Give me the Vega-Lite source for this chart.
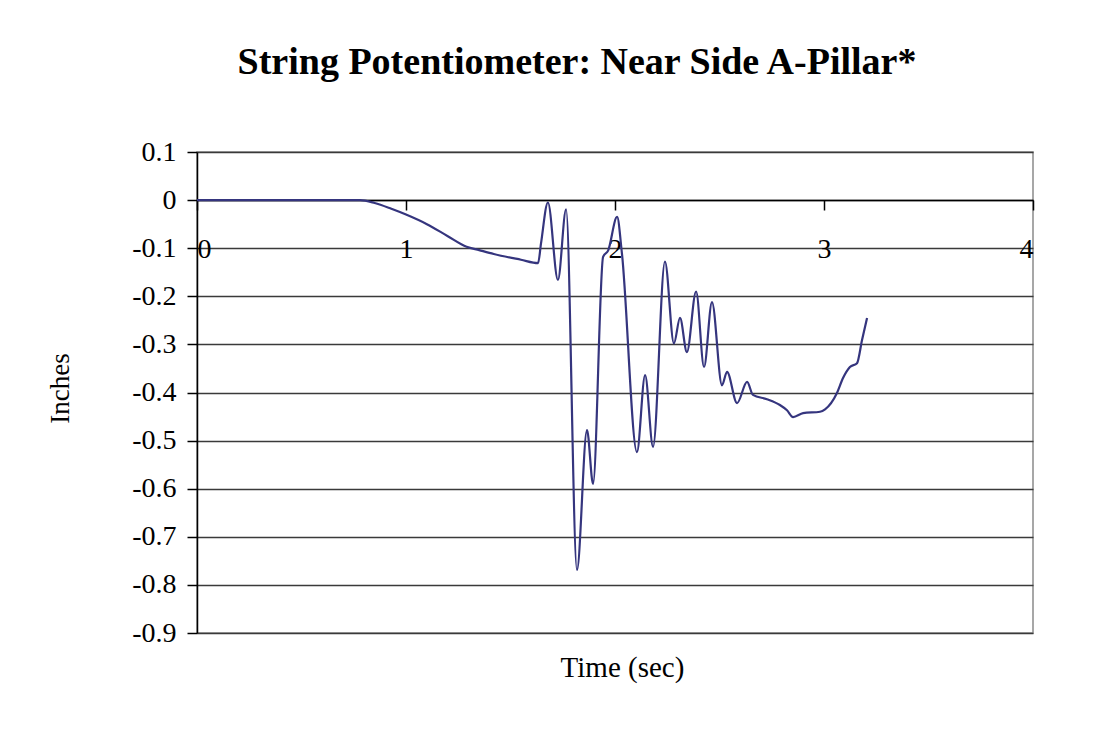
{
  "$schema": "https://vega.github.io/schema/vega-lite/v6.json",
  "width": 836,
  "height": 481,
  "autosize": {"type": "none"},
  "padding": {"left": 197, "top": 152, "right": 71, "bottom": 99},
  "background": "white",
  "title": {
    "text": "String Potentiometer: Near Side A-Pillar*",
    "font": "Liberation Serif",
    "fontSize": 38,
    "fontWeight": "bold",
    "color": "black",
    "anchor": "middle",
    "dx": -38,
    "offset": 56
  },
  "config": {
    "view": {"stroke": "#8a8a8a", "strokeWidth": 1.5},
    "axis": {
      "labelFont": "Liberation Serif",
      "labelFontSize": 28,
      "labelColor": "black",
      "titleFont": "Liberation Serif",
      "titleFontSize": 27,
      "titleFontWeight": "normal",
      "titleColor": "black",
      "domainColor": "black",
      "domainWidth": 1.5,
      "tickColor": "black",
      "tickWidth": 1.5,
      "tickSize": 10
    }
  },
  "data": {
    "values": [
      {"t": 0, "v": 0},
      {"t": 0.2, "v": 0},
      {"t": 0.4, "v": 0},
      {"t": 0.6, "v": 0},
      {"t": 0.78, "v": 0},
      {"t": 0.85, "v": -0.006},
      {"t": 0.93, "v": -0.018},
      {"t": 1.0, "v": -0.03},
      {"t": 1.1, "v": -0.05},
      {"t": 1.2, "v": -0.075},
      {"t": 1.29, "v": -0.097},
      {"t": 1.35, "v": -0.104},
      {"t": 1.42, "v": -0.112},
      {"t": 1.55, "v": -0.124},
      {"t": 1.632, "v": -0.131},
      {"t": 1.646, "v": -0.09},
      {"t": 1.679, "v": -0.005},
      {"t": 1.727, "v": -0.166},
      {"t": 1.766, "v": -0.019},
      {"t": 1.818, "v": -0.769},
      {"t": 1.866, "v": -0.478},
      {"t": 1.895, "v": -0.59},
      {"t": 1.943, "v": -0.118},
      {"t": 1.967, "v": -0.105},
      {"t": 2.01, "v": -0.035},
      {"t": 2.033, "v": -0.11},
      {"t": 2.105, "v": -0.524},
      {"t": 2.144, "v": -0.364},
      {"t": 2.182, "v": -0.513},
      {"t": 2.239, "v": -0.128},
      {"t": 2.282, "v": -0.298},
      {"t": 2.311, "v": -0.245},
      {"t": 2.344, "v": -0.316},
      {"t": 2.388, "v": -0.19},
      {"t": 2.426, "v": -0.347},
      {"t": 2.464, "v": -0.212},
      {"t": 2.512, "v": -0.385},
      {"t": 2.536, "v": -0.357},
      {"t": 2.584, "v": -0.422},
      {"t": 2.632, "v": -0.378},
      {"t": 2.66, "v": -0.405},
      {"t": 2.727, "v": -0.414},
      {"t": 2.789, "v": -0.426},
      {"t": 2.823, "v": -0.437},
      {"t": 2.852, "v": -0.451},
      {"t": 2.9, "v": -0.443},
      {"t": 2.981, "v": -0.44},
      {"t": 3.005, "v": -0.435},
      {"t": 3.062, "v": -0.401},
      {"t": 3.091, "v": -0.37},
      {"t": 3.124, "v": -0.347},
      {"t": 3.158, "v": -0.339},
      {"t": 3.182, "v": -0.291},
      {"t": 3.206, "v": -0.245}
    ]
  },
  "mark": {"type": "line", "interpolate": "monotone", "color": "#35357e", "strokeWidth": 2.2},
  "encoding": {
    "x": {
      "field": "t",
      "type": "quantitative",
      "scale": {"domain": [0, 4], "nice": false, "zero": false},
      "axis": {
        "title": "Time (sec)",
        "values": [0, 1, 2, 3, 4],
        "grid": false,
        "offset": -433,
        "labelPadding": 25,
        "labelBaseline": "top",
        "titleX": 425,
        "titleY": 467,
        "titleFontSize": 29,
        "titleBaseline": "middle",
        "titleAnchor": "middle",
        "titleAlign": "center"
      }
    },
    "y": {
      "field": "v",
      "type": "quantitative",
      "scale": {"domain": [-0.9, 0.1], "nice": false, "zero": false},
      "axis": {
        "title": "Inches",
        "values": [0.1, 0, -0.1, -0.2, -0.3, -0.4, -0.5, -0.6, -0.7, -0.8, -0.9],
        "labelExpr": "replace(format(datum.value, '.1~f'), '\u2212', '-')",
        "labelPadding": 11,
        "grid": true,
        "gridColor": "#3a3a3a",
        "gridWidth": 1.5,
        "titleX": -137,
        "titleY": 236,
        "titleAngle": -90,
        "titleBaseline": "middle",
        "titleAlign": "center"
      }
    }
  }
}
